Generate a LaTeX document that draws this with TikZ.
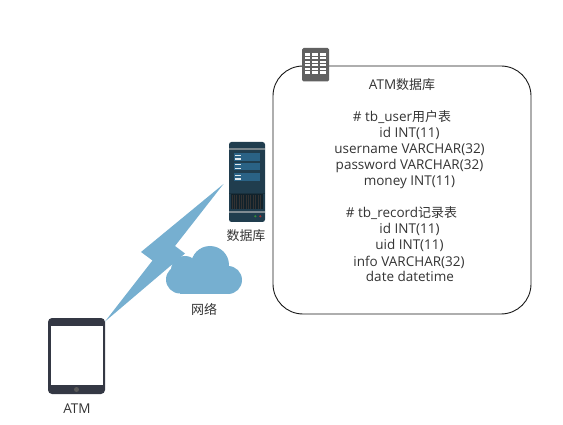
\documentclass[tikz,border=0pt]{standalone}
\usepackage{fontspec}
\setmainfont{Open Sans}
\newfontfamily\cjk[Scale=0.96]{Noto Sans CJK SC}
\definecolor{cloudblue}{HTML}{76AFD0}
\definecolor{tabletdark}{HTML}{343844}
\definecolor{serverdark}{HTML}{203D4E}
\definecolor{serverband}{HTML}{2A6285}
\definecolor{textgray}{HTML}{333333}
\tikzset{
    lbl/.style={text=textgray,font=\fontsize{13.5}{15}\selectfont,inner sep=0pt,anchor=base},
}
\begin{document}
\begin{tikzpicture}[x=1pt,y=-1pt]
        \useasboundingbox (0,0) rectangle (563,425);
        %% database box
        \draw[black!90,line width=0.9pt,rounded corners=30pt] (273,66) rectangle (531,314);
        \node[lbl] (dbtitle) at (402,90) {ATM{\cjk 数据库}};
        \node[lbl] (usertable) at (402,122) {\# tb\_user{\cjk 用户表}};
        \node[lbl] (userid) at (409.5,138) {id INT(11)};
        \node[lbl] (username) at (409.5,154) {username VARCHAR(32)};
        \node[lbl] (password) at (409.5,170) {password VARCHAR(32)};
        \node[lbl] (money) at (409.5,186) {money INT(11)};
        \node[lbl] (recordtable) at (401.5,218) {\# tb\_record{\cjk 记录表}};
        \node[lbl] (recordid) at (409.5,234) {id INT(11)};
        \node[lbl] (uid) at (409.5,250) {uid INT(11)};
        \node[lbl] (info) at (409,266) {info VARCHAR(32)};
        \node[lbl] (date) at (410,282) {date datetime};
        %% database icon
        \fill[black!62,rounded corners=1.5pt] (302,48) rectangle (329,81.5);
        \foreach \y in {53.3,56.7,60.7,64,68,71.3}
            \foreach \x in {304.5,312,320}
                \fill[white] (\x,\y) rectangle ++(5.5,2.4);
        %% lightning
        \fill[cloudblue] (223.5,184) -- (175,246) -- (185,253.5) -- (105,321.5) -- (152.5,260.5) -- (141,252) -- cycle;
        %% cloud
        \fill[cloudblue] (210,265) circle (19);
        \fill[cloudblue] (185,270) circle (14);
        \fill[cloudblue] (180,279.5) circle (14);
        \fill[cloudblue] (228,280) circle (14);
        \fill[cloudblue] (180,275) rectangle (228,293.5);
        \node[lbl] (network) at (204,314) {\cjk 网络};
        %% server
        \fill[serverdark,rounded corners=2.5pt] (229,142) rectangle (265,222);
        \fill[black!20!serverdark] (229,193) rectangle (265,194);
        \fill[black!30!white!60!serverdark] (229,148.5) rectangle (265,150);
        \foreach \y in {153.3,162.7,173.3}
            \fill[serverband] (234,\y) rectangle (260,{\y+7.7});
        \foreach \y in {154.6,158.4,164,167.6,174.6,178.4}
            \fill[white!85!serverband] (235,\y) rectangle (241,{\y+1.2});
        \fill[black!45!serverdark] (231,194.5) rectangle (263,209.5);
        \foreach \x in {232,234,236,239,241,243,246,248,250,253,255,258,260}
            \fill[black!80] (\x,195) rectangle ++(0.9,14);
        \fill[black!25!white!60!serverdark] (229,210.7) rectangle (265,213);
        \fill[green!45!black!80!white] (255.3,216.3) circle (1.2);
        \fill[red!60!black!80!white] (260.3,216.3) circle (1.2);
        \node[lbl] (server) at (246,241) {\cjk 数据库};
        %% tablet
        \fill[tabletdark,rounded corners=4pt] (48,318) rectangle (105,394);
        \fill[white] (51,326) rectangle (103,385);
        \fill[black!65] (76.5,389.5) circle (2.5);
        \node[lbl] (atm) at (77,413) {ATM};
\end{tikzpicture}
\end{document}
